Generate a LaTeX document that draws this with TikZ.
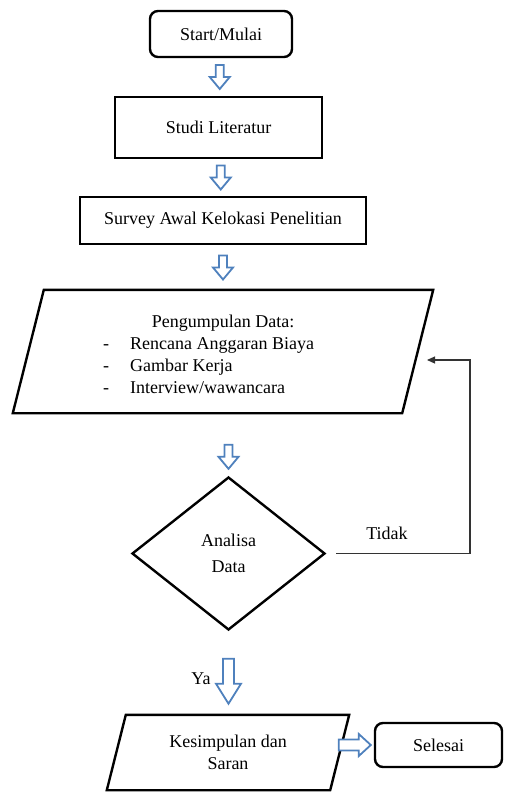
\documentclass[tikz,border=0pt]{standalone}
\usepackage{fontspec}
\setmainfont{Liberation Serif}
\usetikzlibrary{shapes.geometric,calc,arrows.meta}
\definecolor{arrowblue}{HTML}{4F81BD}
\newcommand\downblock[1]{\draw[blockarrow, shift={(#1)}] (-4,-12) -- (4,-12) -- (4,0) -- (10,0) -- (0,12) -- (-10,0) -- (-4,0) -- cycle;}
\begin{document}
\begin{tikzpicture}[x=1pt,y=-1pt,
  every node/.style={font=\fontsize{18}{22}\selectfont, inner sep=0pt},
  boxline/.style={draw=black, line width=2.4pt},
  procbox/.style={boxline, rectangle},
  termbox/.style={boxline, rectangle, rounded corners=8pt},
  ghost/.style={rectangle, draw=none},
  blockarrow/.style={draw=arrowblue, fill=white, line width=1.8pt, line join=miter},
  fbline/.style={draw=black!80, line width=1.1pt, -{Triangle[length=8pt,width=7pt]}}]
\useasboundingbox (0,0) rectangle (506,792);

\node[termbox, minimum width=142pt, minimum height=46pt] (start) at (221,34) {Start/Mulai};
\node[procbox, minimum width=207pt, minimum height=61pt] (studi) at (218.5,127.5) {Studi Literatur};
\node[procbox, minimum width=286pt, minimum height=47pt] (survey) at (223,220.5) {Survey Awal Kelokasi Penelitian};

\node[ghost, minimum width=420pt, minimum height=123pt] (data) at (223,351.5) {};
\draw[boxline] ([xshift=31pt]data.north west) -- (data.north east) -- ([xshift=-31pt]data.south east) -- (data.south west) -- cycle;
\node[anchor=base] (datatitle) at (223,327) {Pengumpulan Data:};
\node[anchor=base west] (datalist) at (103,349) {\begin{tabular}[t]{@{}p{27pt}@{}l@{}}-&Rencana Anggaran Biaya\\ -&Gambar Kerja\\ -&Interview/wawancara\end{tabular}};

\node[boxline, diamond, minimum width=193pt, minimum height=153pt, align=center, font=\fontsize{18}{26}\selectfont] (analisa) at (228.5,553.5) {Analisa\\Data};

\node[ghost, minimum width=242pt, minimum height=75pt, align=center] (kes) at (228,752.5) {Kesimpulan dan\\Saran};
\draw[boxline] ([xshift=19pt]kes.north west) -- (kes.north east) -- ([xshift=-19pt]kes.south east) -- (kes.south west) -- cycle;

\node[termbox, minimum width=127pt, minimum height=44pt] (selesai) at (438.5,745) {Selesai};

\node (tidak) at (387,533) {Tidak};
\node (ya) at (201,679) {Ya};

\downblock{$(start.south)!.5!(studi.north)$}
\downblock{$(studi.south)!.5!(survey.north)$}
\downblock{$(survey.south)!.5!(data.north)$}
\downblock{[yshift=19pt]analisa.north}

\draw[blockarrow, shift={([yshift=-50pt]analisa.south)}] (-5.5,-22.5) -- (5.5,-22.5) -- (5.5,2.5) -- (12.5,2.5) -- (0,22.5) -- (-12.5,2.5) -- (-5.5,2.5) -- cycle;
\draw[blockarrow, shift={([xshift=-3pt]selesai.west)}] (-32,-5.5) -- (-12,-5.5) -- (-12,-11) -- (0,0) -- (-12,11) -- (-12,5.5) -- (-32,5.5) -- cycle;

\coordinate (fbtop) at (470,360);
\coordinate (fbend) at (427,360);
\draw[fbline] ([xshift=10pt]analisa.east) -| (fbtop) -- (fbend);
\end{tikzpicture}
\end{document}
